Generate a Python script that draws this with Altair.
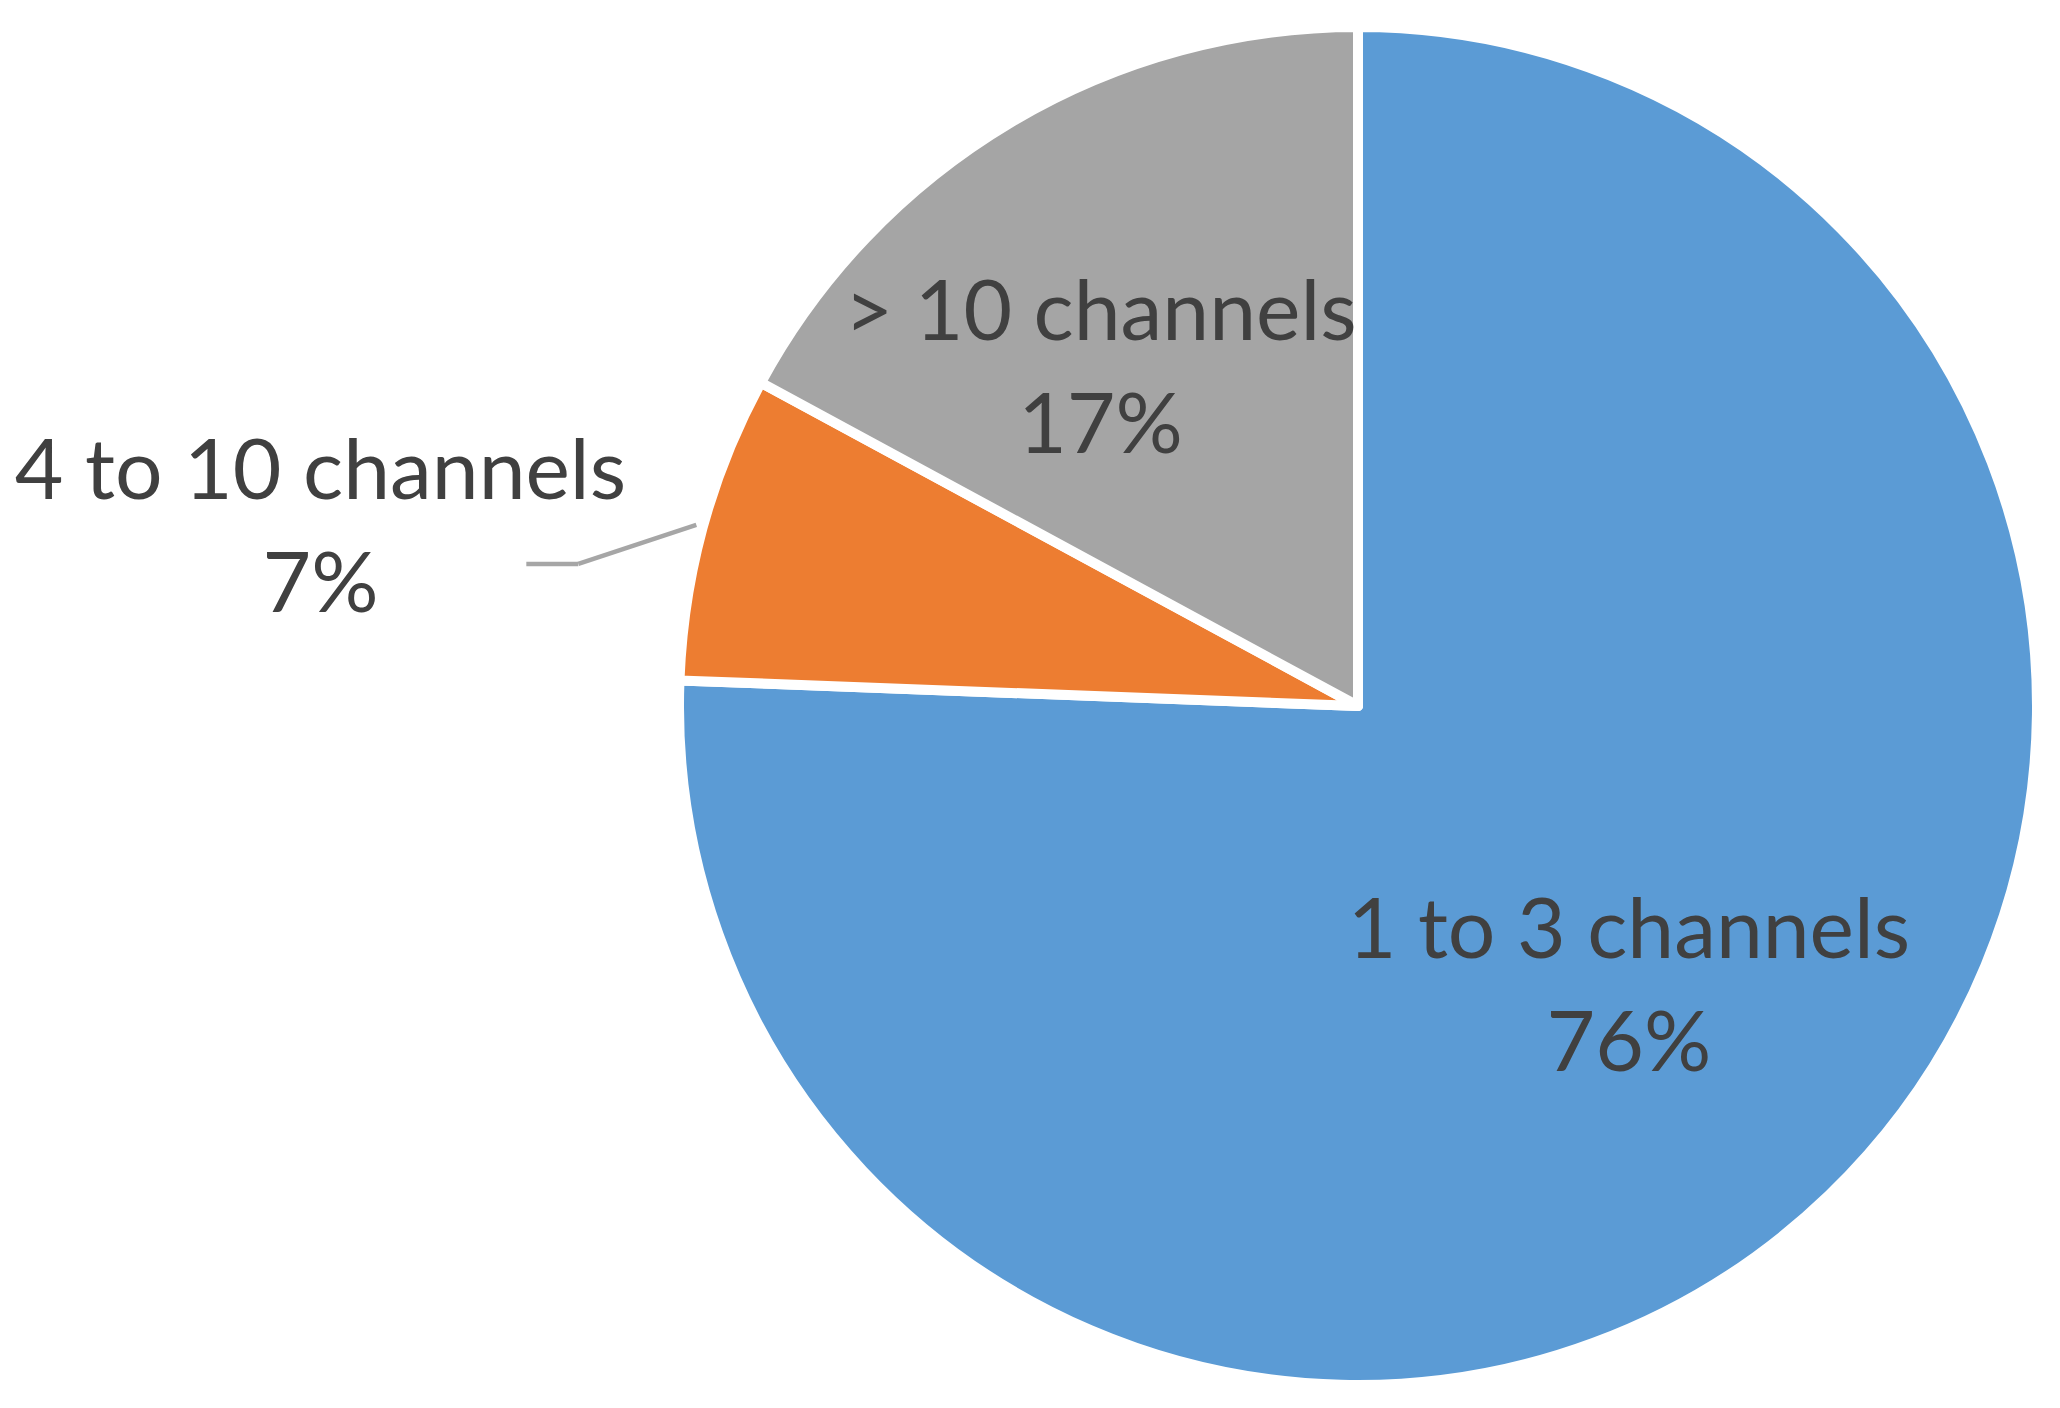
import altair as alt
import pandas as pd

categories = ["1 to 3 channels", "4 to 10 channels", "> 10 channels"]
shares = [75.6, 7.3, 17.1]
colors = ["#5B9BD5", "#ED7D31", "#A5A5A5"]

df = pd.DataFrame({"category": categories, "share": shares,
                   "idx": list(range(len(categories)))})

W, H = 2044, 1392
CX, CY = 1350, 698
R = 679
FS = 84
LH = 113
TXT = "#404040"

base = alt.Chart(df).transform_joinaggregate(
    total="sum(share)"
).transform_window(
    cum="sum(share)", sort=[alt.SortField("idx")], frame=[None, 0]
).transform_calculate(
    start="2*PI*(datum.cum - datum.share)/datum.total",
    end="2*PI*datum.cum/datum.total",
    mid="2*PI*(datum.cum - datum.share/2)/datum.total",
    label="datum.category + '\\n' + format(datum.share/datum.total, '.0%')",
)

arcs = base.mark_arc(outerRadius=R, stroke="white", strokeWidth=10,
                     strokeJoin="round").encode(
    theta=alt.Theta("start:Q", scale=None),
    theta2="end:Q",
    color=alt.Color("category:N", scale=alt.Scale(domain=categories, range=colors),
                    legend=None),
    x=alt.value(CX), y=alt.value(CY),
)


def label_layer(cat, r, dx, dy):
    return base.transform_filter(alt.datum.category == cat).mark_text(
        radius=r, dx=dx, dy=dy, font="Lato", fontSize=FS, color=TXT,
        lineBreak="\n", lineHeight=LH, align="center", baseline="middle",
    ).encode(
        theta=alt.Theta("mid:Q", scale=None),
        text="label:N",
        x=alt.value(CX), y=alt.value(CY),
    )


t_blue = label_layer(categories[0], 392, -1, -55)
t_orange = label_layer(categories[1], 1000, -73, 32)
t_grey = label_layer(categories[2], 423, -41, -28)

lead = base.transform_filter(alt.datum.category == categories[1]).transform_calculate(
    ax=f"{CX} + 686*sin(datum.mid)",
    ay=f"{CY} - 686*cos(datum.mid)",
).transform_calculate(
    bx="datum.ax - 118", by="datum.ay + 39", ex="datum.ax - 170",
)

lead1 = lead.mark_rule(color="#A6A6A6", strokeWidth=4.5).encode(
    x=alt.X("ax:Q", scale=None, axis=None), y=alt.Y("ay:Q", scale=None, axis=None),
    x2="bx:Q", y2="by:Q",
)
lead2 = lead.mark_rule(color="#A6A6A6", strokeWidth=4.5).encode(
    x=alt.X("bx:Q", scale=None, axis=None), y=alt.Y("by:Q", scale=None, axis=None),
    x2="ex:Q", y2="by:Q",
)

chart = alt.layer(arcs, lead1, lead2, t_blue, t_orange, t_grey).properties(
    width=W, height=H, autosize="none", padding=0,
).configure_view(stroke=None)

chart.save("out.html", embed_options={"renderer": "svg", "actions": False})
